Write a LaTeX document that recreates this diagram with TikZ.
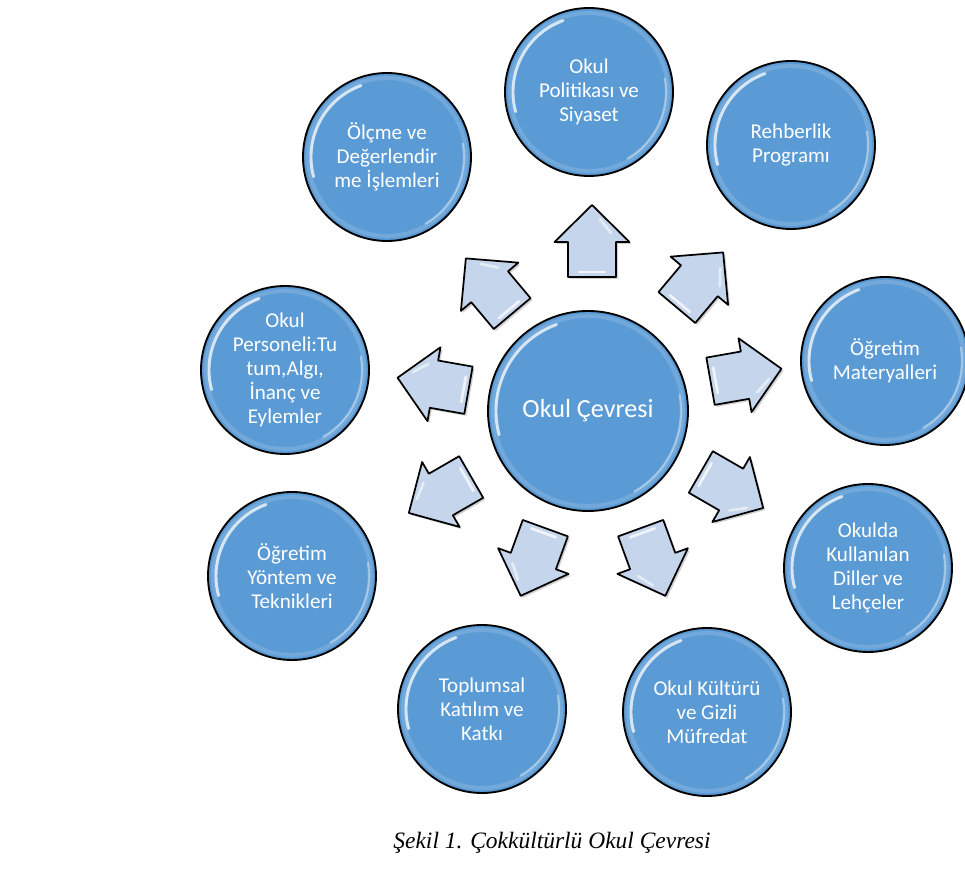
\documentclass[tikz,border=0pt]{standalone}
\usepackage{fontspec}
\setmainfont{Carlito}
\newfontfamily\capfont{Liberation Serif}
\usetikzlibrary{calc}
\definecolor{bubblefill}{RGB}{91,155,213}
\definecolor{arrowfill}{RGB}{197,213,236}
\tikzset{
  bubble/.style={circle, draw=black, line width=1.4pt, fill=bubblefill,
    minimum size=126pt, inner sep=0pt, align=center, text=white,
    font=\fontsize{15.8}{18}\selectfont},
  hub/.style={bubble, minimum size=150pt, font=\fontsize{19.6}{23}\selectfont},
  glossA/.style={white, opacity=0.75, line width=2.2pt, line cap=round},
  glossB/.style={white, opacity=0.4, line width=1.6pt, line cap=round},
  rim/.style={white, opacity=0.14, line width=3pt},
  blockarrow/.style={draw=black, line width=1.3pt, fill=arrowfill, line join=round},
  arrowshade/.style={fill=black, opacity=0.18},
  arrowgloss/.style={white, opacity=0.75, line width=2pt, line cap=round},
  caption/.style={font=\capfont\itshape\fontsize{17.6}{20}\selectfont, text=black}
}
\begin{document}
\begin{tikzpicture}[x=0.75pt,y=0.75pt]
\useasboundingbox (0,0) rectangle (965,878);
\fill[white] (0,0) rectangle (965,878);

% centre and surrounding topics
\node[hub]    (ctr) at (588,467) {Okul Çevresi};
\node[bubble] (pol) at (589,786) {Okul\\Politikası ve\\Siyaset};
\node[bubble] (reh) at (791,733) {Rehberlik\\Programı};
\node[bubble] (mat) at (885,517) {Öğretim\\Materyalleri};
\node[bubble] (dil) at (868,310) {Okulda\\Kullanılan\\Diller ve\\Lehçeler};
\node[bubble] (kul) at (707,166) {Okul Kültürü\\ve Gizli\\Müfredat};
\node[bubble] (top) at (482,169) {Toplumsal\\Katılım ve\\Katkı};
\node[bubble] (yon) at (292,302) {Öğretim\\Yöntem ve\\Teknikleri};
\node[bubble] (per) at (285,508) {Okul\\Personeli:Tu\\tum,Algı,\\İnanç ve\\Eylemler};
\node[bubble] (olc) at (387,721) {Ölçme ve\\Değerlendir\\me İşlemleri};

% glossy bevel on the bubbles
\foreach \n/\r in {ctr/100,pol/84,reh/84,mat/84,dil/84,kul/84,top/84,yon/84,per/84,olc/84}{
  \draw[rim] (\n.center) circle[radius=\r-5];
  \draw[glossA] ($(\n.center)+(110:\r-8)$) arc[start angle=110, end angle=195, radius=\r-8];
  \draw[glossB] ($(\n.center)+(-60:\r-7)$) arc[start angle=-60, end angle=10, radius=\r-7];
}

% block arrows pointing outwards
\coordinate (a1) at (592,637);
\coordinate (a2) at (700,598);
\coordinate (a3) at (746,503);
\coordinate (a4) at (732,388);
\coordinate (a5) at (653,316);
\coordinate (a6) at (533,316);
\coordinate (a7) at (440,383);
\coordinate (a8) at (433,494);
\coordinate (a9) at (489,592);
\foreach \c/\ang in {a1/90,a2/50,a3/10,a4/-30,a5/-70,a6/-110,a7/-150,a8/170,a9/130}{
  \begin{scope}[shift={(\c)}]
    \fill[arrowshade, shift={(2,-2)}, rotate=\ang] (-36,-24) -- (-1,-24) -- (-1,-37.5) -- (36,0)
      -- (-1,37.5) -- (-1,24) -- (-36,24) -- cycle;
  \end{scope}
  \begin{scope}[shift={(\c)}, rotate=\ang]
    \draw[blockarrow] (-36,-24) -- (-1,-24) -- (-1,-37.5) -- (36,0)
      -- (-1,37.5) -- (-1,24) -- (-36,24) -- cycle;
    \draw[arrowgloss] (-31,-13) -- (-31,13);
    \draw[arrowgloss, opacity=0.55] (8,-19) -- (22,-8);
  \end{scope}
}

\node[caption, anchor=base] (cap) at (552,29) {Şekil 1. Çokkültürlü Okul Çevresi};
\end{tikzpicture}
\end{document}
